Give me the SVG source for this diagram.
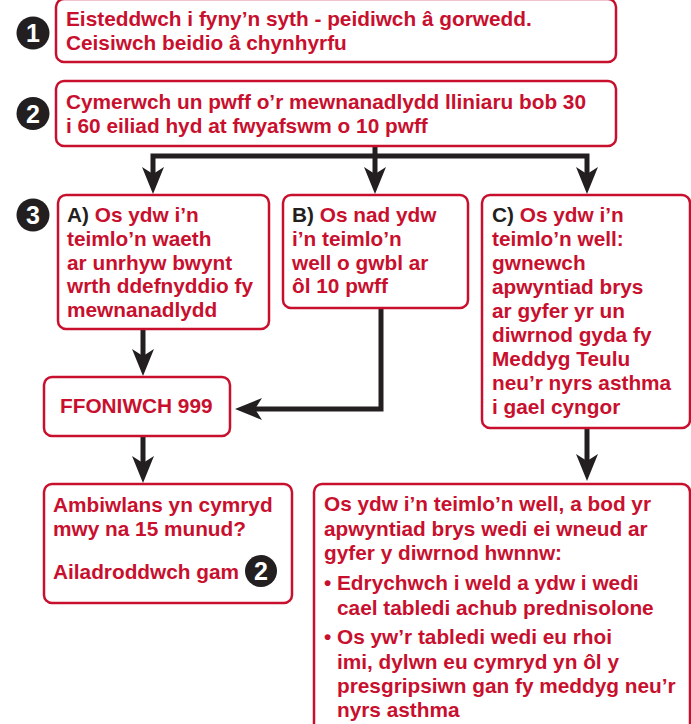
<svg xmlns="http://www.w3.org/2000/svg" width="691" height="724" viewBox="0 0 691 724">
<style>
.box{fill:#fff;stroke:#c8102e;stroke-width:2.5}
.t{font-family:"Liberation Sans",Arial,sans-serif;font-weight:bold;font-size:20.8px;fill:#c8102e}
.k{fill:#231f20}
.num{fill:#231f20}
.nt{font-family:"Liberation Sans",Arial,sans-serif;font-weight:bold;font-size:25px;fill:#fff;text-anchor:middle}
.c{fill:none;stroke:#231f20;stroke-width:5}
</style>
<defs>
<marker id="ah" markerUnits="userSpaceOnUse" markerWidth="28" markerHeight="22" refX="12" refY="11" orient="auto-start-reverse" viewBox="0 0 28 22">
<path d="M0,0 L27,11 L0,22 L7,11 Z" fill="#231f20"/>
</marker>
</defs>
<g id="connectors">
<path class="c" d="M587,179 V156 H153 V179" marker-start="url(#ah)" marker-end="url(#ah)"/>
<path class="c" d="M375,146 V179" marker-end="url(#ah)"/>
<path class="c" d="M143,329 V361" marker-end="url(#ah)"/>
<path class="c" d="M381,308 V409 H250" marker-end="url(#ah)"/>
<path class="c" d="M143,436 V468" marker-end="url(#ah)"/>
<path class="c" d="M587,428 V466" marker-end="url(#ah)"/>
</g>
<g id="step1">
<circle class="num" cx="33" cy="33" r="16.5"/>
<text class="nt" x="33" y="42">1</text>
</g>
<g id="step2">
<circle class="num" cx="33" cy="113.5" r="16.5"/>
<text class="nt" x="33" y="122.5">2</text>
</g>
<g id="step3">
<circle class="num" cx="33" cy="215" r="16.5"/>
<text class="nt" x="33" y="224">3</text>
</g>
<g id="box1">
<rect class="box" x="56" y="-1" width="560" height="63" rx="8"/>
<text class="t" x="66" y="26">Eisteddwch i fyny’n syth - peidiwch â gorwedd.</text>
<text class="t" x="66" y="50">Ceisiwch beidio â chynhyrfu</text>
</g>
<g id="box2">
<rect class="box" x="56" y="81" width="560" height="65" rx="8"/>
<text class="t" x="66" y="109">Cymerwch un pwff o’r mewnanadlydd lliniaru bob 30</text>
<text class="t" x="66" y="133">i 60 eiliad hyd at fwyafswm o 10 pwff</text>
</g>
<g id="boxA">
<rect class="box" x="58" y="195" width="211" height="134" rx="8"/>
<text class="t" x="67" y="222"><tspan class="k">A)</tspan> Os ydw i’n</text>
<text class="t" x="67" y="246">teimlo’n waeth</text>
<text class="t" x="67" y="270">ar unrhyw bwynt</text>
<text class="t" x="67" y="293">wrth ddefnyddio fy</text>
<text class="t" x="67" y="317">mewnanadlydd</text>
</g>
<g id="boxB">
<rect class="box" x="283" y="195" width="185" height="113" rx="8"/>
<text class="t" x="292" y="222"><tspan class="k">B)</tspan> Os nad ydw</text>
<text class="t" x="292" y="246">i’n teimlo’n</text>
<text class="t" x="292" y="270">well o gwbl ar</text>
<text class="t" x="292" y="293">ôl 10 pwff</text>
</g>
<g id="boxC">
<rect class="box" x="482" y="195" width="208" height="233" rx="8"/>
<text class="t" x="492" y="222"><tspan class="k">C)</tspan> Os ydw i’n</text>
<text class="t" x="492" y="246">teimlo’n well:</text>
<text class="t" x="492" y="270">gwnewch</text>
<text class="t" x="492" y="294">apwyntiad brys</text>
<text class="t" x="492" y="318">ar gyfer yr un</text>
<text class="t" x="492" y="342">diwrnod gyda fy</text>
<text class="t" x="492" y="366">Meddyg Teulu</text>
<text class="t" x="492" y="390">neu’r nyrs asthma</text>
<text class="t" x="492" y="414">i gael cyngor</text>
</g>
<g id="call999">
<rect class="box" x="44" y="377" width="186" height="59" rx="8"/>
<text class="t" x="60" y="413">FFONIWCH 999</text>
</g>
<g id="ambulance">
<rect class="box" x="44" y="484" width="248" height="119" rx="8"/>
<text class="t" x="53" y="512">Ambiwlans yn cymryd</text>
<text class="t" x="53" y="536">mwy na 15 munud?</text>
<text class="t" x="53" y="579">Ailadroddwch gam</text>
<circle class="num" cx="261" cy="571" r="16"/>
<text class="nt" x="261" y="580">2</text>
</g>
<g id="feelingBetter">
<rect class="box" x="314" y="484" width="376" height="260" rx="8"/>
<text class="t" x="324" y="511">Os ydw i’n teimlo’n well, a bod yr</text>
<text class="t" x="324" y="536">apwyntiad brys wedi ei wneud ar</text>
<text class="t" x="324" y="560">gyfer y diwrnod hwnnw:</text>
<text class="t" x="324" y="590">•</text>
<text class="t" x="337" y="590">Edrychwch i weld a ydw i wedi</text>
<text class="t" x="337" y="615">cael tabledi achub prednisolone</text>
<text class="t" x="324" y="644">•</text>
<text class="t" x="337" y="644">Os yw’r tabledi wedi eu rhoi</text>
<text class="t" x="337" y="669">imi, dylwn eu cymryd yn ôl y</text>
<text class="t" x="337" y="693">presgripsiwn gan fy meddyg neu’r</text>
<text class="t" x="337" y="717">nyrs asthma</text>
</g>
</svg>
